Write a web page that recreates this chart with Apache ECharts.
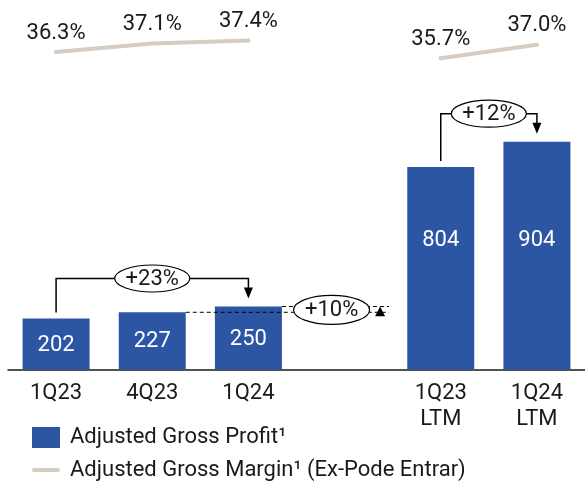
<!DOCTYPE html>
<html>
<head>
<meta charset="utf-8">
<script src="https://cdn.jsdelivr.net/npm/echarts@6/dist/echarts.min.js"></script>
<style>
  html, body { margin: 0; padding: 0; background: #fff; }
  #chart { width: 585px; height: 481px; }
</style>
</head>
<body>
<div id="chart"></div>
<script>
// Periods on the x axis (the blank slot separates quarters from LTM)
const categories = ['1Q23', '4Q23', '1Q24', '', '1Q23\nLTM', '1Q24\nLTM'];
// Adjusted gross profit (bars)
const grossProfit = [202, 227, 250, '-', 804, 904];
// Adjusted gross margin, %, ex-Pode Entrar (line)
const grossMargin = [36.3, 37.1, 37.4, '-', 35.7, 37.0];
// Growth call-outs: bracket arrows between periods
const growthBrackets = [
  { from: 0, to: 2, text: '+23%' },
  { from: 4, to: 5, text: '+12%' }
];
// Quarter-over-quarter call-out
const qoqGrowth = { from: 1, to: 2, text: '+10%' };

const PROFIT_NAME = 'Adjusted Gross Profit¹';
const MARGIN_NAME = 'Adjusted Gross Margin¹ (Ex-Pode Entrar)';

const BAR_COLOR = '#2C55A4';
const LINE_COLOR = '#D6CCC1';
const INK = '#1a1a1a';
const FONT = 'Roboto';
const FS = 22;

const chart = echarts.init(document.getElementById('chart'), null, { renderer: 'canvas' });

const legendBase = {
  orient: 'vertical', left: 32, padding: 0,
  itemWidth: 28, itemHeight: 21,
  textStyle: { color: INK, fontSize: FS, lineHeight: 22, fontFamily: FONT, padding: [0, 0, 0, 5] }
};

chart.setOption({
  animation: false,
  backgroundColor: '#fff',
  textStyle: { fontFamily: FONT },
  grid: [
    { left: 8, width: 582, top: 117.5, height: 252 },
    { left: 8, width: 582, top: 20.5, height: 42 }
  ],
  xAxis: [
    {
      type: 'category', gridIndex: 0, data: categories,
      axisLine: { lineStyle: { color: INK, width: 1.5 } },
      axisTick: { show: false },
      axisLabel: { color: INK, fontSize: FS, lineHeight: 26, margin: 11, fontFamily: FONT, interval: 0 }
    },
    { type: 'category', gridIndex: 1, data: categories, show: false }
  ],
  yAxis: [
    { type: 'value', gridIndex: 0, min: 0, max: 1000, show: false },
    { type: 'value', gridIndex: 1, min: 35.3, max: 39.3, show: false }
  ],
  legend: [
    Object.assign({}, legendBase, {
      top: 426.5,
      data: [{ name: PROFIT_NAME, icon: 'rect' }]
    }),
    Object.assign({}, legendBase, {
      top: 459,
      data: [{
        name: MARGIN_NAME,
        icon: 'path://M2,0 L26,0 A2,2 0 0 1 26,4 L2,4 A2,2 0 0 1 2,0 Z',
        itemStyle: { color: LINE_COLOR, opacity: 1 }
      }]
    })
  ],
  series: [
    {
      name: PROFIT_NAME,
      type: 'bar', xAxisIndex: 0, yAxisIndex: 0,
      barWidth: 67,
      itemStyle: { color: BAR_COLOR },
      data: grossProfit.map((v, i) => ({
        value: v,
        label: i >= 4
          ? { show: true, position: 'insideBottom', distance: 118 }
          : { show: true, position: 'inside', offset: [0, 1] }
      })),
      label: { color: '#fff', fontSize: FS, fontFamily: FONT }
    },
    {
      name: MARGIN_NAME,
      type: 'line', xAxisIndex: 1, yAxisIndex: 1,
      data: grossMargin,
      connectNulls: false,
      symbol: 'circle', symbolSize: 4,
      itemStyle: { color: LINE_COLOR },
      lineStyle: { color: LINE_COLOR, width: 4, cap: 'round' },
      label: {
        show: true, position: 'top', distance: 6,
        color: INK, fontSize: FS, fontFamily: FONT,
        formatter: p => p.value.toFixed(1) + '%'
      }
    }
  ]
});

// ---- growth call-outs, positioned from the bar data ----
const px = (i, v) => chart.convertToPixel({ xAxisIndex: 0, yAxisIndex: 0 }, [i, v]);
const HALF_BAR = 33.5;
const elements = [];

function ellipseLabel(cx, cy, rx, ry, text) {
  elements.push({
    type: 'ellipse', z: 20,
    shape: { cx: cx, cy: cy, rx: rx, ry: ry },
    style: { fill: '#fff', stroke: '#000', lineWidth: 1.2 }
  });
  elements.push({
    type: 'text', z: 21, x: cx, y: cy + 1,
    style: { text: text, fill: INK, fontSize: FS, fontFamily: FONT, align: 'center', verticalAlign: 'middle' }
  });
}

growthBrackets.forEach(b => {
  const [x1, y1] = px(b.from, grossProfit[b.from]);
  const [x2, y2] = px(b.to, grossProfit[b.to]);
  const yTop = Math.min(y1, y2) - 28;
  const tipY = y2 - 8;
  elements.push({
    type: 'polyline', z: 15,
    shape: { points: [[x1, y1 - 6], [x1, yTop], [x2, yTop], [x2, tipY - 10]] },
    style: { stroke: '#000', lineWidth: 1.5, fill: null }
  });
  elements.push({
    type: 'polygon', z: 15,
    shape: { points: [[x2 - 4.5, tipY - 11], [x2 + 4.5, tipY - 11], [x2, tipY]] },
    style: { fill: '#000' }
  });
  ellipseLabel((x1 + x2) / 2, yTop, 37.5, 13.5, b.text);
});

(function () {
  const [xa, ya] = px(qoqGrowth.from, grossProfit[qoqGrowth.from]);
  const [xb, yb] = px(qoqGrowth.to, grossProfit[qoqGrowth.to]);
  const xg = px(3, 0)[0];
  const xEnd = xg + 44.5;
  const dash = { stroke: '#000', lineWidth: 1, lineDash: [4, 3] };
  elements.push({ type: 'line', z: 15, shape: { x1: xa + HALF_BAR, y1: ya, x2: xEnd, y2: ya }, style: dash });
  elements.push({ type: 'line', z: 15, shape: { x1: xb + HALF_BAR, y1: yb, x2: xEnd, y2: yb }, style: dash });
  const ax = xg + 35.5;
  elements.push({
    type: 'polygon', z: 16,
    shape: { points: [[ax - 5, ya + 4], [ax + 5, ya + 4], [ax, yb]] },
    style: { fill: '#000' }
  });
  ellipseLabel(xg - 13, (ya + yb) / 2 + 0.5, 38, 14.5, qoqGrowth.text);
})();

chart.setOption({ graphic: elements });
</script>
</body>
</html>
